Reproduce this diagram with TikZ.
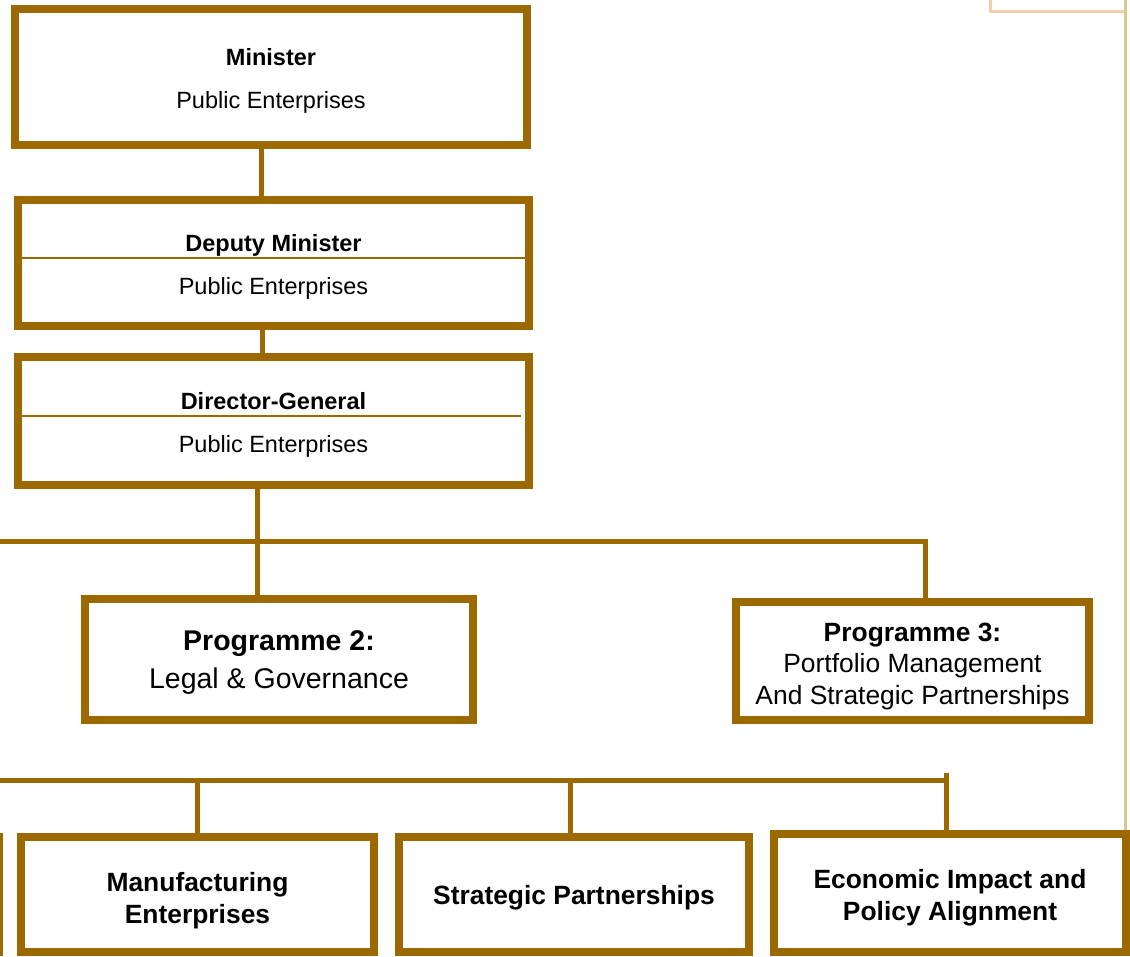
\documentclass[tikz,border=0pt]{standalone}
\usepackage{fontspec}
\setmainfont{Liberation Sans}
\definecolor{gold}{RGB}{156,104,0}
\definecolor{peach}{RGB}{242,206,170}
\definecolor{tan}{RGB}{220,198,142}
\begin{document}
\begin{tikzpicture}[x=1pt,y=-1pt,
  box/.style={draw=gold,line width=8pt,rectangle,inner sep=0pt,outer sep=0pt,fill=white},
  conn/.style={draw=gold,line width=5pt},
  sep/.style={draw=gold,line width=2pt},
  tA/.style={anchor=base,inner sep=0pt,font=\fontsize{23.5}{28}\selectfont},
  tB/.style={anchor=base,inner sep=0pt,font=\fontsize{28.5}{34}\selectfont},
  tC/.style={anchor=base,inner sep=0pt,font=\fontsize{26.4}{31}\selectfont}]
\useasboundingbox (0,0) rectangle (1130,956);
% background decorations at the top right
\draw[peach,line width=3pt] (990,-20) -- (990,11) -- (1124,11);
\draw[tan,line width=3.5pt] (1125.5,-5) -- (1125.5,830);

% boxes
\node[box,minimum width=512pt,minimum height=136pt] (min) at (271,77) {};
\node[box,minimum width=511pt,minimum height=126pt] (dep) at (273.5,263) {};
\node[box,minimum width=511pt,minimum height=128pt] (dg) at (273.5,421) {};
\node[box,minimum width=388pt,minimum height=121pt] (p2) at (279,659.5) {};
\node[box,minimum width=353pt,minimum height=118pt] (p3) at (912.5,661) {};
\node[box,minimum width=359pt,minimum height=115pt] (lft) at (-180.5,894.5) {};
\node[box,minimum width=353pt,minimum height=115pt] (man) at (197.5,894.5) {};
\node[box,minimum width=350pt,minimum height=115pt] (str) at (574,894.5) {};
\node[box,minimum width=352pt,minimum height=118pt] (eco) at (950,893) {};

% separators
\draw[sep] (22,258) -- (525,258);
\draw[sep] (22,416) -- (521,416);

% connectors
\coordinate (hl) at (-10,541.5);
\coordinate (hr) at (928,541.5);
\coordinate (ll) at (-10,780);
\coordinate (lr) at (948,780);
\coordinate (lt) at (946,773);
\draw[conn] (min.south -| 261,0) -- (dep.north -| 261,0);
\draw[conn] (dep.south -| 262,0) -- (dg.north -| 262,0);
\draw[conn] (dg.south -| 257.5,0) -- (p2.north -| 257.5,0);
\draw[conn] (hl) -- (hr);
\draw[conn] (hr -| 925.5,0) -- (p3.north -| 925.5,0);
\draw[conn] (ll) -- (lr);
\draw[conn] (lt) -- (eco.north -| lt);
\draw[conn] (ll -| 197,0) -- (man.north -| 197,0);
\draw[conn] (ll -| 570,0) -- (str.north -| 570,0);

% redraw box borders on top of connectors
\foreach \n in {min,dep,dg,p2,p3,man,str,eco}{
  \draw[gold,line width=8pt] (\n.north west) rectangle (\n.south east);
}

% texts
\node[tA] (t1) at (271,65.4) {\bfseries Minister};
\node[tA] (t2) at (271,108.4) {Public Enterprises};
\node[tA] (t3) at (273.5,251) {\bfseries Deputy Minister};
\node[tA] (t4) at (273.5,294) {Public Enterprises};
\node[tA] (t5) at (273.5,409) {\bfseries Director-General};
\node[tA] (t6) at (273.5,452) {Public Enterprises};
\node[tB] (t7) at (279,650) {\bfseries Programme 2:};
\node[tB] (t8) at (279,688) {Legal \& Governance};
\node[tC] (t9) at (912.5,641.5) {\bfseries Programme 3:};
\node[tC] (t10) at (912.5,672.5) {Portfolio Management};
\node[tC] (t11) at (912.5,704.5) {And Strategic Partnerships};
\node[tC] (t12) at (197.5,891.5) {\bfseries Manufacturing};
\node[tC] (t13) at (197.5,923.5) {\bfseries Enterprises};
\node[tC] (t14) at (574,904.5) {\bfseries Strategic Partnerships};
\node[tC] (t15) at (950,888.5) {\bfseries Economic Impact and};
\node[tC] (t16) at (950,920.5) {\bfseries Policy Alignment};
\end{tikzpicture}
\end{document}
